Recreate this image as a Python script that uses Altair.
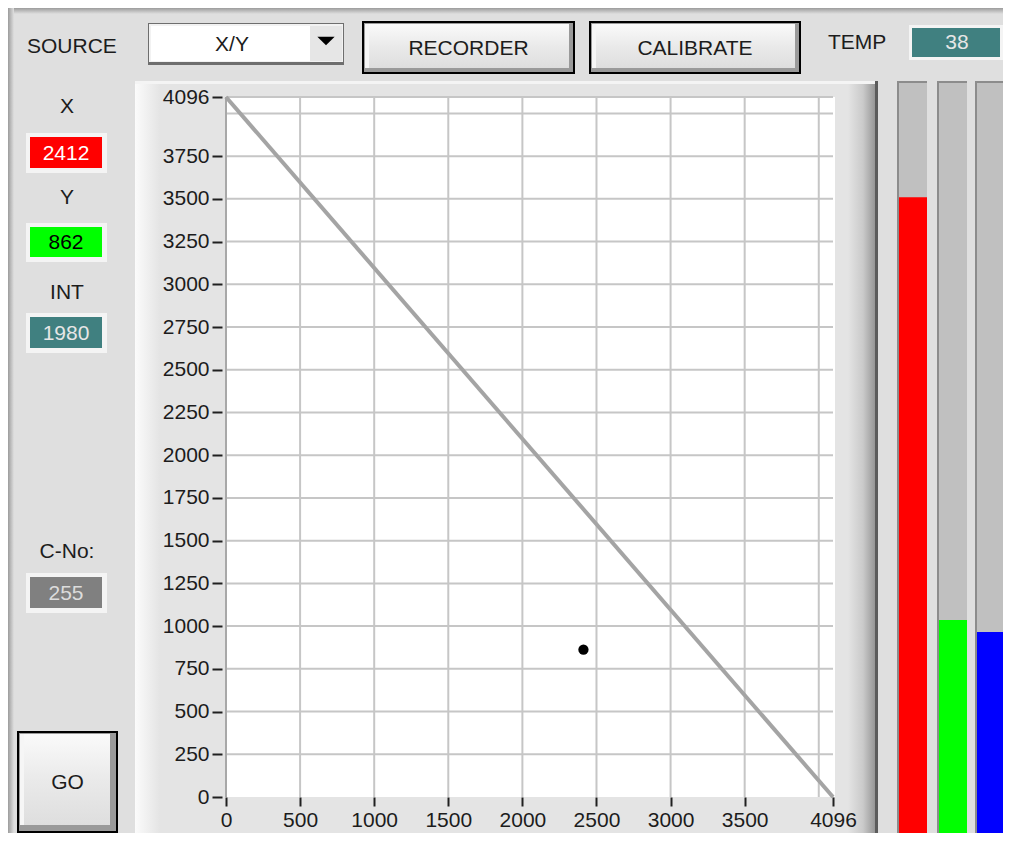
import altair as alt
import pandas as pd

# ---------------- values ----------------
axis_max = 4096
x_tick_values = [0, 500, 1000, 1500, 2000, 2500, 3000, 3500, 4096]
y_tick_values = [0, 250, 500, 750, 1000, 1250, 1500, 1750, 2000, 2250,
                 2500, 2750, 3000, 3250, 3500, 3750, 4096]
x_grid_values = [500, 1000, 1500, 2000, 2500, 3000, 3500, 4000]
y_grid_values = [250, 500, 750, 1000, 1250, 1500, 1750, 2000, 2250, 2500,
                 2750, 3000, 3250, 3500, 3750, 4000, 4096]
diag_x = [0, 4096]
diag_y = [4096, 0]
meas_x = [2412]
meas_y = [862]
readout_names = ["X", "Y", "INT", "C-No:"]
readout_texts = ["2412", "862", "1980", "255"]
temp_text = "38"
source_text = "X/Y"
button_texts = ["RECORDER", "CALIBRATE", "GO"]
level_channels = ["R", "G", "B"]
level_values = [3510, 1036, 965]

# ---------------- layout / style ----------------
X0, Y0 = 226, 97          # page position of the plot origin
W, H = 607, 700
FONT = "Liberation Sans, Arial, sans-serif"
FS = 21
TXT = "#1c1c1c"
BG = "#dfdfdf"
PANEL = "#e4e4e4"

one = pd.DataFrame({"k": [0]})
xs = alt.Scale(domain=[0, axis_max], nice=False, zero=False)
ys = alt.Scale(domain=[0, axis_max], nice=False, zero=False)

X_AXIS = alt.Axis(values=x_tick_values, grid=False, domain=False, tickSize=9, tickWidth=2,
                  tickColor="#202020", labelFont=FONT, labelFontSize=FS, labelColor=TXT,
                  labelPadding=3, labelFlush=False, labelOverlap=False, format="d",
                  title=None, zindex=1)
Y_AXIS = alt.Axis(values=y_tick_values, grid=False, domain=False, offset=4, tickSize=10,
                  tickWidth=2, tickColor="#202020", labelFont=FONT, labelFontSize=FS,
                  labelColor=TXT, labelPadding=3, labelFlush=False, labelOverlap=False,
                  format="d", title=None, zindex=1)


def X(field):
    return alt.X(field, scale=xs, axis=X_AXIS, title=None)


def Y(field):
    return alt.Y(field, scale=ys, axis=Y_AXIS, title=None)


def grad(colors, horizontal=True):
    n = len(colors)
    stops = [alt.GradientStop(color=c, offset=i / (n - 1)) for i, c in enumerate(colors)]
    if horizontal:
        return alt.LinearGradient(gradient="linear", stops=stops, x1=0, x2=1, y1=0, y2=0)
    return alt.LinearGradient(gradient="linear", stops=stops, x1=0, x2=0, y1=0, y2=1)


def rect(x1, y1, x2, y2, fill, stroke=None, sw=0):
    kw = dict(fill=fill)
    if stroke:
        kw.update(stroke=stroke, strokeWidth=sw)
    return alt.Chart(one).mark_rect(**kw).encode(
        x=alt.value(x1 - X0), x2=alt.value(x2 - X0),
        y=alt.value(y1 - Y0), y2=alt.value(y2 - Y0))


def label(x, y, s, color=TXT, size=FS, align="center"):
    return alt.Chart(one).mark_text(
        text=s, font=FONT, fontSize=size, color=color, align=align, baseline="middle"
    ).encode(x=alt.value(x - X0), y=alt.value(y - Y0))


def button(x1, y1, x2, y2, text, bevel=5):
    return [
        rect(x1, y1, x2, y2, "#9a9a9a", stroke="#000000", sw=2),
        rect(x1 + 2, y1 + 2, x2 - bevel, y2 - bevel, grad(["#fafafa", "#eaeaea", "#dedede"], False)),
        rect(x1 + 2, y1 + 2, x1 + 6, y2 - bevel, "#f6f6f6"),
        label((x1 + x2) / 2, (y1 + y2) / 2 + 1, text),
    ]


layers = []

# window frame
layers.append(rect(8, 8, 1011, 14, grad(["#9c9c9c", BG], False)))
layers.append(rect(8, 8, 14, 850, grad(["#9c9c9c", BG])))

# plot panel
layers += [
    rect(135, 81, 878, 848, PANEL),
    rect(135, 81, 160, 848, grad(["#fbfbfb", PANEL])),
    rect(135, 81, 878, 84, "#f4f4f4"),
    rect(848, 84, 878, 848, grad([PANEL, "#cacaca", "#8a8a8a"])),
    rect(875, 81, 878, 848, "#5c5c5c"),
    rect(826, 97, 835, 797, "#ffffff"),
]

# white plot area (carries the axes)
plot_df = pd.DataFrame({"x0": [0], "x1": [axis_max], "y0": [0], "y1": [axis_max]})
layers.append(
    alt.Chart(plot_df).mark_rect(fill="#ffffff").encode(
        x=X("x0:Q"), x2="x1:Q", y=Y("y0:Q"), y2="y1:Q")
)

# grid lines
layers.append(
    alt.Chart(pd.DataFrame({"g": x_grid_values})).mark_rule(color="#c6c6c6", strokeWidth=2)
    .encode(x=X("g:Q"))
)
layers.append(
    alt.Chart(pd.DataFrame({"g": y_grid_values})).mark_rule(color="#c6c6c6", strokeWidth=2)
    .encode(y=Y("g:Q"))
)
layers.append(
    alt.Chart(pd.DataFrame({"g": [0]})).mark_rule(color="#a8a8a8", strokeWidth=2)
    .encode(x=X("g:Q"))
)

# diagonal calibration line and the measured point
layers.append(
    alt.Chart(pd.DataFrame({"x": diag_x, "y": diag_y})).mark_line(color="#a4a4a4", strokeWidth=4)
    .encode(x=X("x:Q"), y=Y("y:Q"))
)
layers.append(
    alt.Chart(pd.DataFrame({"x": meas_x, "y": meas_y})).mark_circle(size=105, color="#000000", opacity=1)
    .encode(x=X("x:Q"), y=Y("y:Q"))
)

# top row: SOURCE dropdown, buttons, TEMP
layers += [
    label(27, 47, "SOURCE", align="left"),
    rect(148, 23, 344, 65, "#6e6e6e"),
    rect(149, 24, 343, 62, "#f2f2f2"),
    rect(151, 26, 342, 61, "#ffffff"),
    rect(310, 26, 342, 61, "#e6e6e6"),
    alt.Chart(one).mark_point(shape="M-1,-0.5L1,-0.5L0,0.5Z", filled=True, color="#000000",
                              opacity=1, size=300)
    .encode(x=alt.value(326 - X0), y=alt.value(41 - Y0)),
    label(232, 45, source_text),
]
layers += button(363, 22, 574, 73, button_texts[0])
layers += button(590, 22, 800, 73, button_texts[1])
layers += [
    label(828, 43, "TEMP", align="left"),
    rect(909, 25, 1003, 60, "#f4f4f4"),
    rect(912, 28, 1000, 57, "#408080"),
    label(957, 43, temp_text, color="#e6e6e6"),
]

# left column readouts
name_y = [107, 198, 293, 552]
box_y = [(137, 168), (227, 257), (317, 348), (577, 608)]
box_fill = ["#ff0000", "#00ff00", "#408080", "#808080"]
box_txt = ["#ffffff", "#000000", "#e6e6e6", "#dcdcdc"]
for i in range(4):
    yy1, yy2 = box_y[i]
    layers += [
        label(67, name_y[i], readout_names[i]),
        rect(26, yy1 - 4, 107, yy2 + 5, "#f4f4f4"),
        rect(30, yy1, 102, yy2, box_fill[i]),
        label(66, (yy1 + yy2) / 2 + 1, readout_texts[i], color=box_txt[i]),
    ]
layers += button(18, 732, 117, 832, button_texts[2], bevel=7)

# level bars on the right
track_x = [(897, 927), (937, 967), (975, 1005)]
level_colors = ["#ff0000", "#00ff00", "#0000ff"]
for i in range(3):
    a, b = track_x[i]
    layers += [rect(a, 81, b, 850, "#8c8c8c"), rect(a + 2, 83, b, 850, "#c0c0c0")]
    layers.append(
        alt.Chart(pd.DataFrame({"ch": [level_channels[i]], "v": [level_values[i]]}))
        .mark_rect(fill=level_colors[i])
        .encode(x=alt.value(a + 2 - X0), x2=alt.value(b - X0),
                y=Y("v:Q"), y2=alt.value(850 - Y0))
    )

chart = alt.layer(*layers).properties(
    width=W, height=H, background=BG,
    padding={"left": 218, "top": 89, "right": 170, "bottom": 36},
    autosize=alt.AutoSizeParams(type="none"),
).configure_view(strokeWidth=0)

chart.save("out.html", embed_options={"renderer": "svg", "actions": False})
